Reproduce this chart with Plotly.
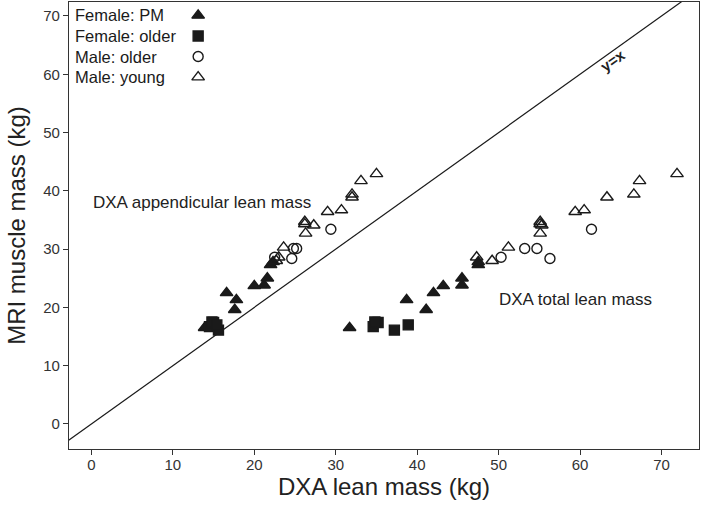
import plotly.graph_objects as go

# ---- data (kg) ----
fpm_mri = [16.5, 19.6, 21.3, 22.5, 23.7, 23.8, 25.0, 27.3, 27.8]
fpm_app = [13.9, 17.6, 17.8, 16.6, 20.0, 21.2, 21.6, 22.0, 22.3]
fpm_tot = [31.7, 41.1, 38.7, 42.0, 43.2, 45.5, 45.5, 47.5, 47.5]

fold_mri = [16.7, 17.4, 17.5, 16.1, 17.0]
fold_app = [14.5, 15.0, 14.8, 15.6, 15.4]
fold_tot = [34.6, 35.2, 34.8, 37.2, 38.9]

mold_mri = [28.6, 30.1, 30.1, 28.4, 33.4]
mold_app = [22.5, 24.8, 25.2, 24.6, 29.4]
mold_tot = [50.3, 53.2, 54.7, 56.3, 61.4]

myng_mri = [28.6, 28.0, 30.3, 34.7, 34.3, 34.1, 32.7, 36.4, 36.7, 38.9, 39.4, 41.7, 42.9]
myng_app = [23.0, 22.7, 23.6, 26.2, 26.2, 27.3, 26.3, 29.0, 30.7, 32.0, 32.0, 33.1, 35.0]
myng_tot = [47.3, 49.2, 51.2, 55.1, 55.1, 55.3, 55.1, 59.4, 60.5, 63.3, 66.6, 67.3, 71.9]

identity = [-10, 100]

legend_labels = ["Female: PM", "Female: older", "Male: older", "Male: young"]

FONT = "Liberation Sans, Arial, sans-serif"
INK = "#1a1a1a"

groups = [
    (fpm_app, fpm_tot, fpm_mri, "triangle-up", 11, INK),
    (fold_app, fold_tot, fold_mri, "square", 10, INK),
    (mold_app, mold_tot, mold_mri, "circle-open", 10, INK),
    (myng_app, myng_tot, myng_mri, "triangle-up-open", 11, INK),
]

fig = go.Figure()

fig.add_trace(go.Scatter(x=identity, y=identity, mode="lines",
                         line=dict(color=INK, width=1.2), showlegend=False,
                         hoverinfo="skip"))

for app, tot, mri, sym, sz, col in groups:
    for xs in (app, tot):
        fig.add_trace(go.Scatter(
            x=xs, y=mri, mode="markers", showlegend=False,
            marker=dict(symbol=sym, size=sz, color=col,
                        line=dict(color=col, width=1.4))))

# legend drawn on an overlay axis (symbols right of the labels)
leg_y = [0.970, 0.924, 0.878, 0.832]
for (app, tot, mri, sym, sz, col), lab, yy in zip(groups, legend_labels, leg_y):
    fig.add_trace(go.Scatter(x=[0.205], y=[yy], xaxis="x2", yaxis="y2",
                             mode="markers", showlegend=False,
                             marker=dict(symbol=sym, size=sz, color=col,
                                         line=dict(color=col, width=1.4))))
    fig.add_annotation(x=0.006, y=yy, xref="paper", yref="paper", text=lab,
                       showarrow=False, xanchor="left", yanchor="middle",
                       font=dict(family=FONT, size=16.5, color=INK))

fig.add_annotation(x=13.6, y=38.0, text="DXA appendicular lean mass",
                   showarrow=False, font=dict(family=FONT, size=17, color="#222"))
fig.add_annotation(x=59.4, y=21.3, text="DXA total lean mass",
                   showarrow=False, font=dict(family=FONT, size=17, color="#222"))
fig.add_annotation(x=64.0, y=62.3, text="<b>y=x</b>", textangle=-35.6,
                   showarrow=False, font=dict(family=FONT, size=15, color="#222"))

axis_common = dict(showgrid=False, zeroline=False, showline=True, mirror=True,
                   linecolor="#333", linewidth=1.2, ticks="outside", ticklen=5,
                   tickcolor="#333", tickfont=dict(family=FONT, size=15, color="#333"))

fig.update_layout(
    width=702, height=505,
    margin=dict(l=69, r=3, t=2, b=56),
    paper_bgcolor="white", plot_bgcolor="white",
    xaxis=dict(range=[-2.75, 74.6], tickvals=[0, 10, 20, 30, 40, 50, 60, 70],
               ticklabelstandoff=-3,
               title=dict(text="DXA lean mass (kg)", standoff=2,
                          font=dict(family=FONT, size=24, color="#222")),
               **axis_common),
    yaxis=dict(range=[-4.3, 72.4], tickvals=[0, 10, 20, 30, 40, 50, 60, 70],
               title=dict(text="MRI muscle mass (kg)", standoff=10,
                          font=dict(family=FONT, size=24, color="#222")),
               **axis_common),
    xaxis2=dict(range=[0, 1], overlaying="x", visible=False, domain=[0, 1]),
    yaxis2=dict(range=[0, 1], overlaying="y", visible=False),
    showlegend=False,
)

fig.write_html("out.html", config={"displayModeBar": False},
               post_script="document.body.style.margin='0';document.body.style.padding='0';document.body.style.overflow='hidden';")
